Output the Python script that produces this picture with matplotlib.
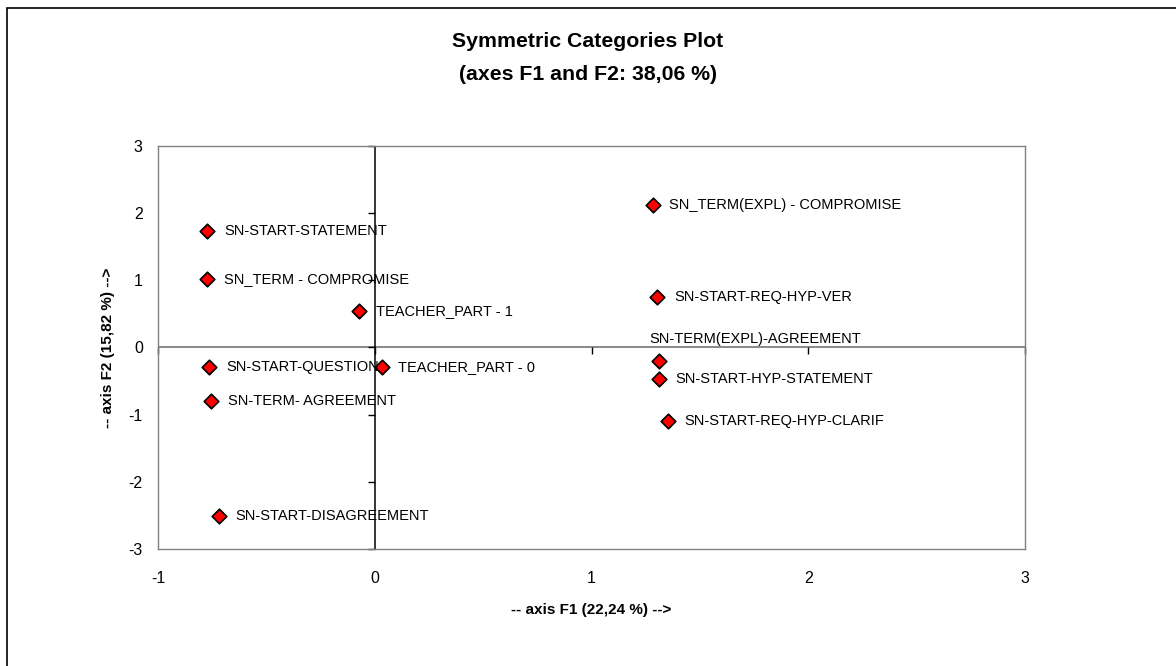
import matplotlib.pyplot as plt
from matplotlib.patches import Rectangle
from matplotlib.lines import TICKLEFT, TICKDOWN

plt.rcParams['font.family'] = ['Liberation Sans', 'DejaVu Sans']
plt.rcParams['axes.unicode_minus'] = False

labels = ["SN-START-STATEMENT", "SN_TERM - COMPROMISE", "TEACHER_PART - 1",
          "SN-START-QUESTION", "TEACHER_PART - 0", "SN-TERM- AGREEMENT",
          "SN-START-DISAGREEMENT", "SN_TERM(EXPL) - COMPROMISE",
          "SN-START-REQ-HYP-VER", "SN-TERM(EXPL)-AGREEMENT",
          "SN-START-HYP-STATEMENT", "SN-START-REQ-HYP-CLARIF"]
f1 = [-0.773, -0.773, -0.073, -0.763, 0.032, -0.755, -0.719, 1.282, 1.304, 1.311, 1.311, 1.352]
f2 = [1.734, 1.020, 0.543, -0.286, -0.295, -0.797, -2.504, 2.122, 0.747, -0.201, -0.474, -1.090]
xticks = [-1, 0, 1, 2, 3]
yticks = [-3, -2, -1, 0, 1, 2, 3]

fig = plt.figure(figsize=(11.76, 6.66), dpi=100)
ax = fig.add_axes([0.1344, 0.1757, 0.7372, 0.6051])

# outer chart border
fig.patches.append(Rectangle((0.006, -0.1), 1.2, 1.088, transform=fig.transFigure,
                             fill=False, edgecolor='black', linewidth=1.2))

ax.set_xlim(-1, 3)
ax.set_ylim(-3, 3)
ax.set_xticks(xticks)
ax.set_yticks(yticks)
ax.tick_params(length=0, labelsize=11.5, pad=11)
ax.tick_params(axis='x', pad=16)
for s in ax.spines.values():
    s.set_color('#808080')
    s.set_linewidth(1)

# zero axes with their tick marks
ax.axhline(0, color='#808080', linewidth=1.3, zorder=1)
ax.axvline(0, color='black', linewidth=1.1, zorder=1)
ax.plot([0] * len(yticks), yticks, linestyle='none', marker=TICKLEFT,
        markersize=5, color='black', clip_on=False, zorder=1)
ax.plot(xticks, [0] * len(xticks), linestyle='none', marker=TICKDOWN,
        markersize=5, color='black', clip_on=False, zorder=1)

ax.scatter(f1, f2, marker='D', s=55, color='red', edgecolor='black',
           linewidth=1.2, zorder=3)
for x, y, t in zip(f1, f2, labels):
    if t == "SN-TERM(EXPL)-AGREEMENT":
        ax.annotate(t, (x, y), xytext=(-7, 16), textcoords='offset points',
                    fontsize=10.5, va='center', ha='left')
    else:
        ax.annotate(t, (x, y), xytext=(12, 0), textcoords='offset points',
                    fontsize=10.5, va='center', ha='left')

fig.text(0.5, 0.913, "Symmetric Categories Plot\n(axes F1 and F2: 38,06 %)",
         ha='center', va='center', fontsize=15.3, fontweight='bold', linespacing=1.9)
ax.set_xlabel("-- axis F1 (22,24 %) -->", fontsize=11, fontweight='bold', labelpad=12)
ax.set_ylabel("-- axis F2 (15,82 %) -->", fontsize=11, fontweight='bold', labelpad=10)

fig.savefig("out.png", dpi=100)
